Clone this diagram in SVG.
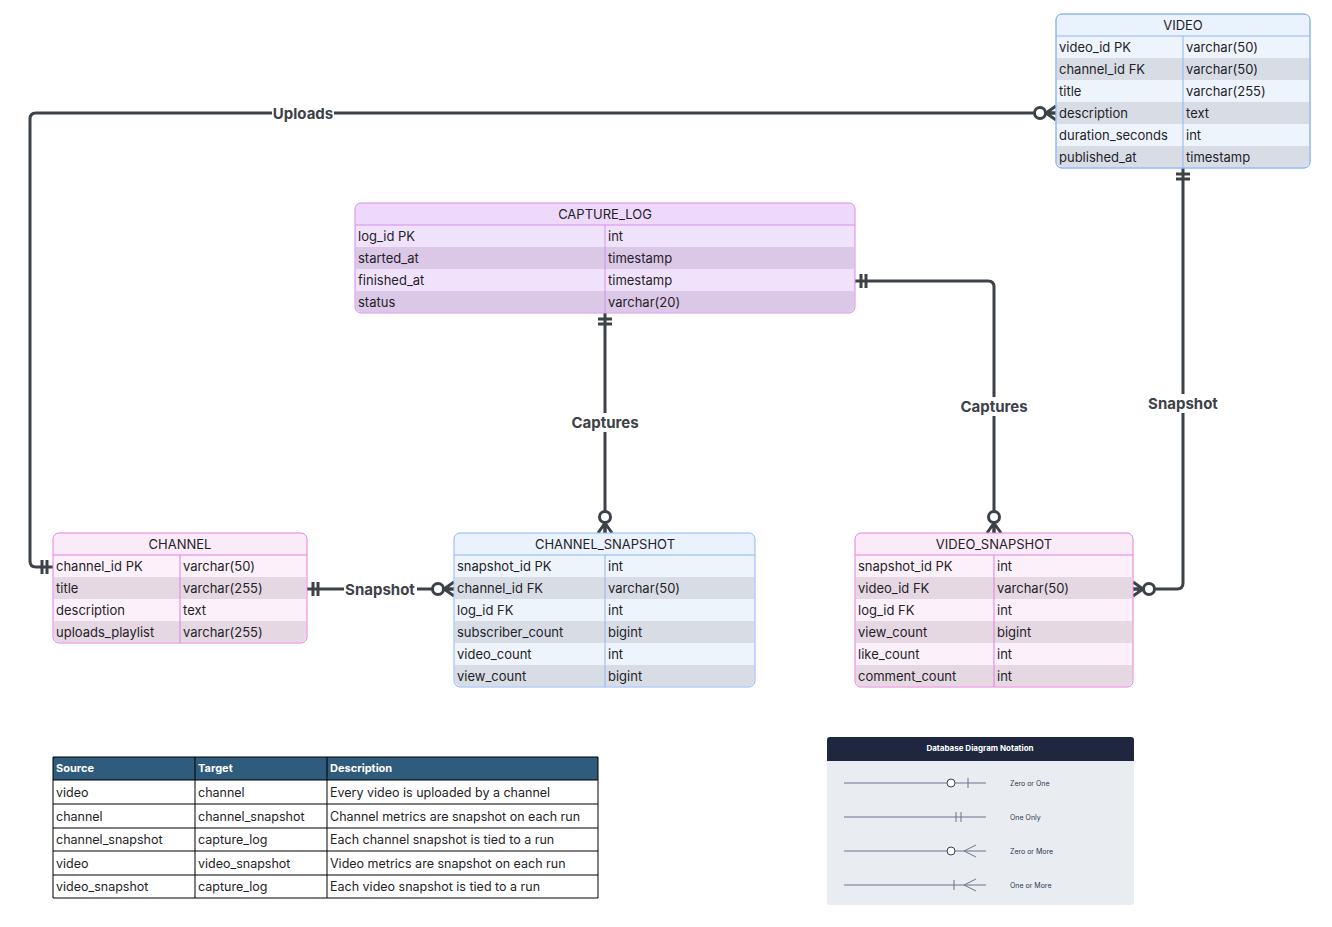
<svg xmlns="http://www.w3.org/2000/svg" width="1332" height="927" viewBox="0 0 1332 927">
<style>
text{font-family:Inter,"Liberation Sans",sans-serif;fill:#1f2328}
.t{font-size:13px}
.h{font-size:13px;text-anchor:middle}
.conn{fill:none;stroke:#3d4148;stroke-width:3}
.lbl{font-size:15px;font-weight:bold;fill:#3d4148;text-anchor:middle}
.lb{fill:#fff}
.tb{font-size:12.5px}
.th{font-size:11px;font-weight:bold;fill:#fff}
.lg{font-size:7px;fill:#2a3550}
.ll{stroke:#6b7388;stroke-width:1;fill:none}
</style>
<defs>
<marker id="many" markerUnits="userSpaceOnUse" markerWidth="30" markerHeight="20" viewBox="-24 -10 30 20" refX="0" refY="0" orient="auto-start-reverse">
<path d="M-10,0 L0,-7 M-10,0 L0,0 M-10,0 L0,7" stroke="#3d4148" stroke-width="3" fill="none"/>
<circle cx="-16" cy="0" r="5.5" fill="#fff" stroke="#3d4148" stroke-width="3"/>
</marker>
<marker id="one" markerUnits="userSpaceOnUse" markerWidth="20" markerHeight="20" viewBox="-16 -10 20 20" refX="0" refY="0" orient="auto-start-reverse">
<path d="M-6,-7 V7 M-11,-7 V7" stroke="#3d4148" stroke-width="3" fill="none"/>
</marker>
</defs>
<rect width="1332" height="927" fill="#fff"/>

<g id="connectors">
<path class="conn" d="M1056,113 H36 Q30,113 30,119 V561 Q30,567 36,567 H53" marker-start="url(#many)" marker-end="url(#one)"/>
<path class="conn" d="M605,313 V533" marker-start="url(#one)" marker-end="url(#many)"/>
<path class="conn" d="M855,281 H988 Q994,281 994,287 V533" marker-start="url(#one)" marker-end="url(#many)"/>
<path class="conn" d="M1183,168 V583 Q1183,589 1177,589 H1133" marker-start="url(#one)" marker-end="url(#many)"/>
<path class="conn" d="M307,589 H454" marker-start="url(#one)" marker-end="url(#many)"/>
<rect class="lb" x="272" y="104" width="62" height="19"/><text class="lbl" x="303" y="119">Uploads</text>
<rect class="lb" x="569" y="413" width="72" height="19"/><text class="lbl" x="605" y="428">Captures</text>
<rect class="lb" x="958" y="397" width="72" height="19"/><text class="lbl" x="994" y="412">Captures</text>
<rect class="lb" x="1145" y="394" width="76" height="19"/><text class="lbl" x="1183" y="409">Snapshot</text>
<rect class="lb" x="344" y="580" width="73" height="19"/><text class="lbl" x="380" y="595">Snapshot</text>
</g>

<g id="video">
<rect x="1056" y="14" width="254" height="154" rx="6" fill="#eaf2fe" stroke="#8fb6f5"/>
<rect x="1057" y="36" width="252" height="22" fill="#eef4fc"/>
<rect x="1057" y="58" width="252" height="22" fill="#d8dde5"/>
<rect x="1057" y="80" width="252" height="22" fill="#eef4fc"/>
<rect x="1057" y="102" width="252" height="22" fill="#d8dde5"/>
<rect x="1057" y="124" width="252" height="22" fill="#eef4fc"/>
<path d="M1057,146 H1309 V161 Q1309,167 1303,167 H1063 Q1057,167 1057,161 Z" fill="#d8dde5"/>
<rect x="1056" y="14" width="254" height="154" rx="6" fill="none" stroke="#8fb6f5"/>
<path d="M1056,36 H1310 M1183,36 V168" stroke="#8fb6f5"/>
<text class="h" x="1183" y="30">VIDEO</text>
<text class="t" x="1059" y="52">video_id PK</text><text class="t" x="1186" y="52">varchar(50)</text>
<text class="t" x="1059" y="74">channel_id FK</text><text class="t" x="1186" y="74">varchar(50)</text>
<text class="t" x="1059" y="96">title</text><text class="t" x="1186" y="96">varchar(255)</text>
<text class="t" x="1059" y="118">description</text><text class="t" x="1186" y="118">text</text>
<text class="t" x="1059" y="140">duration_seconds</text><text class="t" x="1186" y="140">int</text>
<text class="t" x="1059" y="162">published_at</text><text class="t" x="1186" y="162">timestamp</text>
</g>

<g id="capture_log">
<rect x="355" y="203" width="500" height="110" rx="6" fill="#eed9fb"/>
<rect x="356" y="225" width="498" height="22" fill="#f1e2fb"/>
<rect x="356" y="247" width="498" height="22" fill="#dbc7e6"/>
<rect x="356" y="269" width="498" height="22" fill="#f1e2fb"/>
<path d="M356,291 H854 V306 Q854,312 848,312 H362 Q356,312 356,306 Z" fill="#dbc7e6"/>
<rect x="355" y="203" width="500" height="110" rx="6" fill="none" stroke="#d48ff0"/>
<path d="M355,225 H855 M605,225 V313" stroke="#d48ff0"/>
<text class="h" x="605" y="219">CAPTURE_LOG</text>
<text class="t" x="358" y="241">log_id PK</text><text class="t" x="608" y="241">int</text>
<text class="t" x="358" y="263">started_at</text><text class="t" x="608" y="263">timestamp</text>
<text class="t" x="358" y="285">finished_at</text><text class="t" x="608" y="285">timestamp</text>
<text class="t" x="358" y="307">status</text><text class="t" x="608" y="307">varchar(20)</text>
</g>

<g id="channel">
<rect x="53" y="533" width="254" height="110" rx="6" fill="#fbeaf8"/>
<rect x="54" y="555" width="252" height="22" fill="#fcf0fa"/>
<rect x="54" y="577" width="252" height="22" fill="#e5d8e3"/>
<rect x="54" y="599" width="252" height="22" fill="#fcf0fa"/>
<path d="M54,621 H306 V636 Q306,642 300,642 H60 Q54,642 54,636 Z" fill="#e5d8e3"/>
<rect x="53" y="533" width="254" height="110" rx="6" fill="none" stroke="#e480e0"/>
<path d="M53,555 H307 M180,555 V643" stroke="#e480e0"/>
<text class="h" x="180" y="549">CHANNEL</text>
<text class="t" x="56" y="571">channel_id PK</text><text class="t" x="183" y="571">varchar(50)</text>
<text class="t" x="56" y="593">title</text><text class="t" x="183" y="593">varchar(255)</text>
<text class="t" x="56" y="615">description</text><text class="t" x="183" y="615">text</text>
<text class="t" x="56" y="637">uploads_playlist</text><text class="t" x="183" y="637">varchar(255)</text>
</g>

<g id="channel_snapshot">
<rect x="454" y="533" width="301" height="154" rx="6" fill="#eaf2fe"/>
<rect x="455" y="555" width="299" height="22" fill="#eef4fc"/>
<rect x="455" y="577" width="299" height="22" fill="#d8dde5"/>
<rect x="455" y="599" width="299" height="22" fill="#eef4fc"/>
<rect x="455" y="621" width="299" height="22" fill="#d8dde5"/>
<rect x="455" y="643" width="299" height="22" fill="#eef4fc"/>
<path d="M455,665 H754 V680 Q754,686 748,686 H461 Q455,686 455,680 Z" fill="#d8dde5"/>
<rect x="454" y="533" width="301" height="154" rx="6" fill="none" stroke="#8fb6f5"/>
<path d="M454,555 H755 M605,555 V687" stroke="#8fb6f5"/>
<text class="h" x="605" y="549">CHANNEL_SNAPSHOT</text>
<text class="t" x="457" y="571">snapshot_id PK</text><text class="t" x="608" y="571">int</text>
<text class="t" x="457" y="593">channel_id FK</text><text class="t" x="608" y="593">varchar(50)</text>
<text class="t" x="457" y="615">log_id FK</text><text class="t" x="608" y="615">int</text>
<text class="t" x="457" y="637">subscriber_count</text><text class="t" x="608" y="637">bigint</text>
<text class="t" x="457" y="659">video_count</text><text class="t" x="608" y="659">int</text>
<text class="t" x="457" y="681">view_count</text><text class="t" x="608" y="681">bigint</text>
</g>

<g id="video_snapshot">
<rect x="855" y="533" width="278" height="154" rx="6" fill="#fbeaf8"/>
<rect x="856" y="555" width="276" height="22" fill="#fcf0fa"/>
<rect x="856" y="577" width="276" height="22" fill="#e5d8e3"/>
<rect x="856" y="599" width="276" height="22" fill="#fcf0fa"/>
<rect x="856" y="621" width="276" height="22" fill="#e5d8e3"/>
<rect x="856" y="643" width="276" height="22" fill="#fcf0fa"/>
<path d="M856,665 H1132 V680 Q1132,686 1126,686 H862 Q856,686 856,680 Z" fill="#e5d8e3"/>
<rect x="855" y="533" width="278" height="154" rx="6" fill="none" stroke="#e480e0"/>
<path d="M855,555 H1133 M994,555 V687" stroke="#e480e0"/>
<text class="h" x="994" y="549">VIDEO_SNAPSHOT</text>
<text class="t" x="858" y="571">snapshot_id PK</text><text class="t" x="997" y="571">int</text>
<text class="t" x="858" y="593">video_id FK</text><text class="t" x="997" y="593">varchar(50)</text>
<text class="t" x="858" y="615">log_id FK</text><text class="t" x="997" y="615">int</text>
<text class="t" x="858" y="637">view_count</text><text class="t" x="997" y="637">bigint</text>
<text class="t" x="858" y="659">like_count</text><text class="t" x="997" y="659">int</text>
<text class="t" x="858" y="681">comment_count</text><text class="t" x="997" y="681">int</text>
</g>

<g id="relationship_table">
<rect x="53" y="757" width="545" height="23" fill="#2f5b7c"/>
<rect x="53" y="780" width="545" height="118" fill="#fff"/>
<path d="M53,757 H598 V898 H53 Z M53,780 H598 M53,804 H598 M53,828 H598 M53,851 H598 M53,875 H598 M195,757 V898 M327,757 V898" fill="none" stroke="#000" stroke-width="1"/>
<text class="th" x="56" y="772">Source</text><text class="th" x="198" y="772">Target</text><text class="th" x="330" y="772">Description</text>
<text class="tb" x="56" y="797">video</text><text class="tb" x="198" y="797">channel</text><text class="tb" x="330" y="797">Every video is uploaded by a channel</text>
<text class="tb" x="56" y="821">channel</text><text class="tb" x="198" y="821">channel_snapshot</text><text class="tb" x="330" y="821">Channel metrics are snapshot on each run</text>
<text class="tb" x="56" y="844">channel_snapshot</text><text class="tb" x="198" y="844">capture_log</text><text class="tb" x="330" y="844">Each channel snapshot is tied to a run</text>
<text class="tb" x="56" y="868">video</text><text class="tb" x="198" y="868">video_snapshot</text><text class="tb" x="330" y="868">Video metrics are snapshot on each run</text>
<text class="tb" x="56" y="891">video_snapshot</text><text class="tb" x="198" y="891">capture_log</text><text class="tb" x="330" y="891">Each video snapshot is tied to a run</text>
</g>

<g id="legend">
<rect x="827" y="737" width="307" height="168" rx="3" fill="#e9edf2"/>
<path d="M830,737 H1131 Q1134,737 1134,740 V761 H827 V740 Q827,737 830,737 Z" fill="#1e2640"/>
<text x="980" y="751" font-size="8" font-weight="bold" fill="#fff" text-anchor="middle" style="fill:#fff">Database Diagram Notation</text>
<path class="ll" d="M844,783 H986 M968,778 V788"/><circle cx="951" cy="783" r="4" fill="#fff" stroke="#3d4148"/>
<path class="ll" d="M844,817 H986 M956,812 V822 M961,812 V822"/>
<path class="ll" d="M844,851 H986 M964,851 L976,845 M964,851 L976,857"/><circle cx="951" cy="851" r="4" fill="#fff" stroke="#3d4148"/>
<path class="ll" d="M844,885 H986 M954,880 V890 M964,885 L976,879 M964,885 L976,891"/>
<text class="lg" x="1010" y="786">Zero or One</text>
<text class="lg" x="1010" y="820">One Only</text>
<text class="lg" x="1010" y="854">Zero or More</text>
<text class="lg" x="1010" y="888">One or More</text>
</g>
</svg>
